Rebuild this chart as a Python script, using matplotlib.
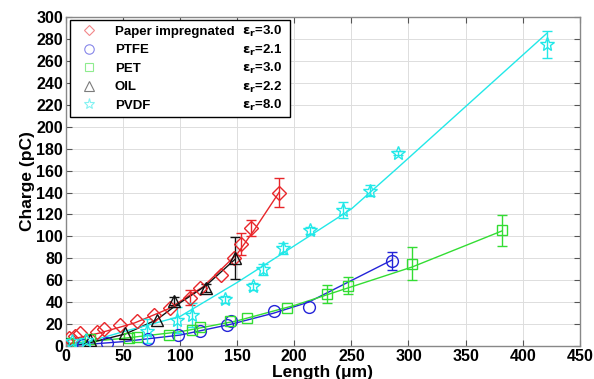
import numpy as np
import matplotlib
matplotlib.use("Agg")
import matplotlib.pyplot as plt
from matplotlib.lines import Line2D
from matplotlib.patches import Rectangle

plt.rcParams["font.family"] = ["Liberation Sans", "DejaVu Sans"]
plt.rcParams["font.weight"] = "bold"

nan = np.nan

# Measured points: x = length (um), y = charge (pC), e = error half-width (nan = no bar)
paper_x = [3, 8, 12, 27, 33, 47, 62, 77, 91, 109, 117, 136, 147, 153.5, 162, 186.6]
paper_y = [7.5, 9, 11.5, 12.7, 15.8, 18.8, 22.7, 28, 35, 44, 53, 65, 80, 93, 107.5, 140]
paper_e = [nan, nan, nan, nan, nan, nan, nan, nan, nan, 7, nan, nan, nan, 10, 7, 13]
paper_fit_x = [0, 30, 60, 90, 120, 150, 165, 186.6]
paper_fit_y = [5, 12, 21, 34, 54, 84, 106, 140]

ptfe_x = [14.6, 35.7, 72, 98.5, 117.5, 141, 145, 182, 212.5, 285.7]
ptfe_y = [0.5, 2.5, 6, 9.7, 14, 19.6, 22.7, 31.5, 36, 77.4]
ptfe_e = [nan, nan, nan, nan, nan, nan, nan, nan, nan, 8]
ptfe_fit_x = [0, 50, 100, 145, 182, 212.5, 285.7]
ptfe_fit_y = [0, 4, 10, 20, 30, 40, 78.5]

pet_x = [2, 21, 55, 62, 90, 110, 117.5, 144, 159, 193.6, 229, 247, 303, 382]
pet_y = [3, 6, 7, 8.2, 9.7, 14.5, 17, 22.7, 25.5, 35, 47.5, 55, 75, 105.5]
pet_e = [nan, nan, nan, nan, nan, nan, nan, nan, nan, nan, 8, 8, 15, 14]
pet_fit_x = [0, 50, 100, 150, 200, 250, 303, 382]
pet_fit_y = [2, 7, 13, 23, 37, 54, 72, 105]

oil_x = [0, 21, 52, 79.5, 95, 122.5, 148]
oil_y = [1.5, 5.5, 12, 24, 41, 53, 80]
oil_e = [nan, nan, nan, nan, 4, 4, 19]
oil_fit_x = [0, 21, 52, 79.5, 95, 122.5, 148]
oil_fit_y = [0, 3, 11, 24, 36, 55, 79]

pvdf_x = [5, 17.5, 71, 97, 110, 139.5, 164, 173, 190.5, 214, 243, 266.7, 290.6, 421]
pvdf_y = [4.5, 5.5, 13.7, 24, 28, 42.5, 54.5, 70, 89, 105.5, 124, 141.5, 176, 275]
pvdf_e = [nan, nan, 11, 12, 11, 3, 3, 5, 5, 3, 7.5, 5, 2, 12]
pvdf_fit_x = [0, 20, 50, 100, 150, 187.5, 250, 290, 421]
pvdf_fit_y = [0, 4, 13, 27, 58, 83, 125, 162, 285]

names = ["Paper impregnated", "PTFE", "PET", "OIL", "PVDF"]
eps = ["3.0", "2.1", "3.0", "2.2", "8.0"]

series = [
    (paper_x, paper_y, paper_e, paper_fit_x, paper_fit_y, "#e8262a", "D", 7),
    (ptfe_x, ptfe_y, ptfe_e, ptfe_fit_x, ptfe_fit_y, "#2424d8", "o", 8.5),
    (pet_x, pet_y, pet_e, pet_fit_x, pet_fit_y, "#33dd33", "s", 7),
    (oil_x, oil_y, oil_e, oil_fit_x, oil_fit_y, "#111111", "^", 9),
    (pvdf_x, pvdf_y, pvdf_e, pvdf_fit_x, pvdf_fit_y, "#22e8e8", "*", 10),
]

fig = plt.figure(figsize=(5.94, 3.79), dpi=100)
ax = fig.add_axes([0.111, 0.087, 0.865, 0.868])

handles = []
for (x, y, e, fx, fy, c, m, ms), name in zip(series, names):
    ax.plot(fx, fy, color=c, linewidth=1.0, zorder=2)
    ax.errorbar(x, y, yerr=e, fmt="none", ecolor=c, elinewidth=1.0,
                capsize=3.5, capthick=1.0, zorder=3)
    ax.plot(x, y, linestyle="none", marker=m, markersize=ms,
            markerfacecolor="none", markeredgecolor=c, markeredgewidth=1.0, zorder=4)
    handles.append(Line2D([], [], linestyle="none", marker=m, markersize=ms * 0.8,
                          markerfacecolor="none", markeredgecolor=c,
                          markeredgewidth=0.8, alpha=0.55))

ax.set_xlim(0, 450)
ax.set_ylim(0, 300)
ax.set_xticks(np.arange(0, 451, 50))
ax.set_yticks(np.arange(0, 301, 20))
ax.grid(True, color="#dddddd", linewidth=0.7)
ax.set_axisbelow(True)
ax.tick_params(labelsize=11.5, direction="in", top=True, right=True,
               length=4, color="#555555", pad=2)
for lab in ax.get_xticklabels() + ax.get_yticklabels():
    lab.set_fontweight("bold")
for sp in ax.spines.values():
    sp.set_color("#888888")
    sp.set_linewidth(1.0)

ax.set_xlabel("Length (\u03bcm)", fontsize=12.5, fontweight="bold", labelpad=1)
ax.set_ylabel("Charge (pC)", fontsize=12.5, fontweight="bold", labelpad=1)

leg = ax.legend(handles, names, loc="upper left", bbox_to_anchor=(0.008, 0.99),
                prop={"weight": "bold", "size": 9.5}, frameon=False,
                handletextpad=1.0, borderpad=0.4, labelspacing=0.47,
                handlelength=2.0, borderaxespad=0.0)
leg.set_zorder(6)

# legend frame drawn by hand so it also holds the permittivity column
fig.canvas.draw()
inv = ax.transAxes.inverted()
lb = leg.get_window_extent()
(fx0, fy0) = inv.transform((lb.x0, lb.y0))
(fx1, fy1) = inv.transform((lb.x0 + 220, lb.y1))
ax.add_patch(Rectangle((fx0, fy0), fx1 - fx0, fy1 - fy0, transform=ax.transAxes,
                       facecolor="white", edgecolor="black", linewidth=1.0, zorder=5))
x_right = inv.transform((lb.x0 + 212, 0))[0]
for txt, ev in zip(leg.get_texts(), eps):
    bb = txt.get_window_extent()
    yc = inv.transform((0, (bb.y0 + bb.y1) / 2))[1]
    ax.text(x_right, yc, r"$\mathbf{\varepsilon_r}$=" + ev, transform=ax.transAxes,
            ha="right", va="center", fontsize=9.5, fontweight="bold", zorder=7)

fig.savefig("out.png", dpi=100)
